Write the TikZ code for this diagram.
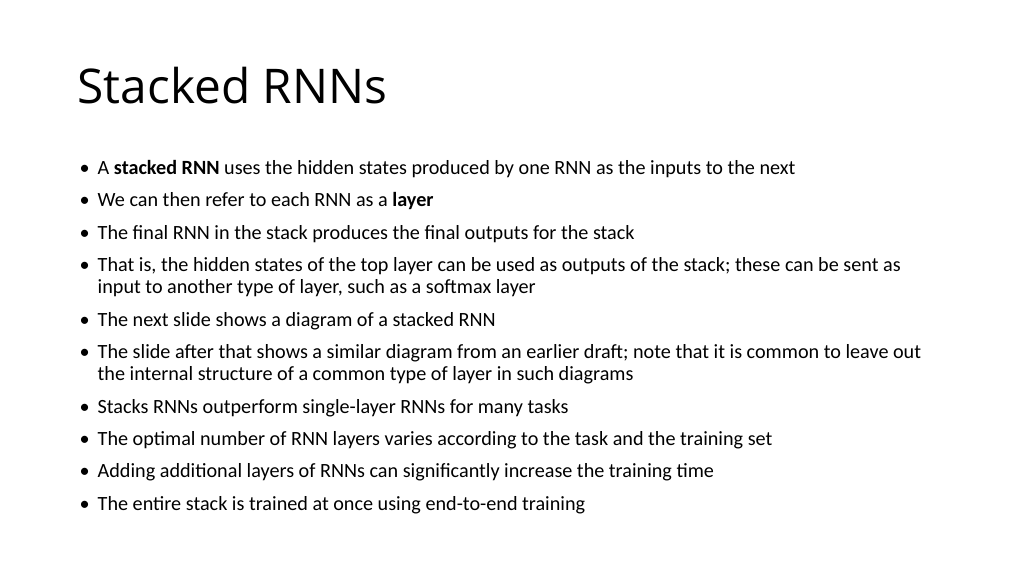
\documentclass[tikz,border=0pt]{standalone}
\usepackage{fontspec}
\setmainfont{Carlito}
\newfontfamily\titlefont{Open Sans}
\begin{document}
\begin{tikzpicture}[x=0.01cm,y=-0.01cm,
  txt/.style={anchor=base west,inner sep=0pt,font=\fontsize{5.74}{6.26}\selectfont},
  bul/.style={anchor=base west,inner sep=0pt,font=\fontsize{5.74}{6.26}\selectfont}]
\useasboundingbox[fill=white] (0,0) rectangle (1024,575);
\node[anchor=base west,inner sep=0pt,font=\titlefont\fontsize{13.6}{16}\selectfont] (title) at (77,103) {Stacked RNNs};
\foreach \y/\t [count=\i] in {
 174/{A \textbf{stacked RNN} uses the hidden states produced by one RNN as the inputs to the next},
 206/{We can then refer to each RNN as a \textbf{layer}},
 239/{The final RNN in the stack produces the final outputs for the stack},
 271/{That is, the hidden states of the top layer can be used as outputs of the stack; these can be sent as},
 326/{The next slide shows a diagram of a stacked RNN},
 358/{The slide after that shows a similar diagram from an earlier draft; note that it is common to leave out},
 413/{Stacks RNNs outperform single-layer RNNs for many tasks},
 445/{The optimal number of RNN layers varies according to the task and the training set},
 477/{Adding additional layers of RNNs can significantly increase the training time},
 510/{The entire stack is trained at once using end-to-end training}}
{
 \node[bul] (b\i) at (79,\y) {\textbullet};
 \node[txt] (t\i) at (97,\y) {\t};
}
\node[txt] (t4b) at (97,293) {input to another type of layer, such as a softmax layer};
\node[txt] (t6b) at (97,380) {the internal structure of a common type of layer in such diagrams};
\end{tikzpicture}
\end{document}
